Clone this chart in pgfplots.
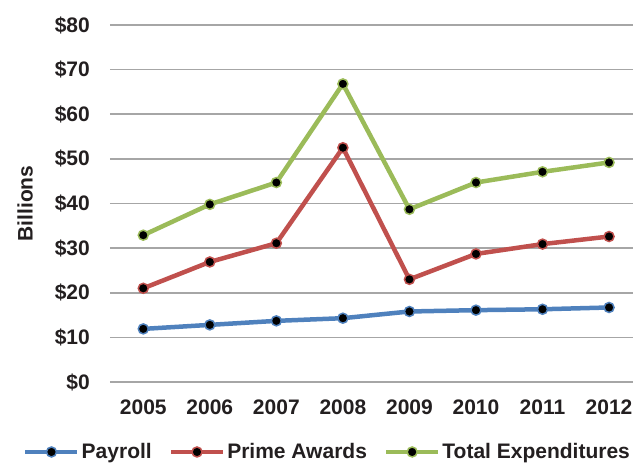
\documentclass[border=0pt]{standalone}
\usepackage{fontspec}
\setmainfont{Liberation Sans}
\usepackage{pgfplots}
\pgfplotsset{compat=1.18}
\definecolor{cblue}{HTML}{4F81BD}
\definecolor{cred}{HTML}{C0504D}
\definecolor{cgreen}{HTML}{9BBB59}
\definecolor{cgrid}{HTML}{A6A6A6}
\definecolor{ctext}{HTML}{231F20}
\newcommand\cf{\fontsize{21bp}{25bp}\selectfont\bfseries\color{ctext}}
\begin{document}
\begin{tikzpicture}
\useasboundingbox (-110bp,-82bp) rectangle (524bp,382bp);
\begin{axis}[
  at={(0,0)}, anchor=south west,
  scale only axis, width=523bp, height=357bp,
  xmin=2004.5, xmax=2012.36, ymin=0, ymax=80,
  axis line style={draw=none}, tick style={draw=none},
  ymajorgrids, grid style={line width=1.5bp, color=cgrid},
  ytick={0,10,...,80},
  yticklabels={\$0,\$10,\$20,\$30,\$40,\$50,\$60,\$70,\$80},
  xtick={2005,2006,2007,2008,2009,2010,2011,2012},
  xticklabels={2005,2006,2007,2008,2009,2010,2011,2012},
  yticklabel style={font=\cf, inner sep=0pt, anchor=east, xshift=-20bp},
  xticklabel style={font=\cf, inner sep=0pt, anchor=north, yshift=-18bp},
  clip=false,
  legend columns=-1,
  legend style={at={(axis description cs:0.416,-0.196)}, anchor=center, draw=none, fill=none,
    font=\cf, /tikz/every even column/.append style={column sep=15bp}, nodes={inner xsep=2bp}},
  legend image code/.code={\draw[mark repeat=2,mark phase=2,#1] plot coordinates {(0bp,0bp)(26bp,0bp)(52bp,0bp)};},
  every axis plot/.append style={line width=4.5bp, mark=*, mark size=5bp},
]
\addplot[cblue, mark options={fill=black, draw=cblue, line width=1.5bp}] coordinates {
 (2005,11.9)(2006,12.8)(2007,13.7)(2008,14.3)(2009,15.8)(2010,16.1)(2011,16.3)(2012,16.7)};
\addlegendentry{Payroll}
\addplot[cred, mark options={fill=black, draw=cred, line width=1.5bp}] coordinates {
 (2005,21.0)(2006,26.9)(2007,31.1)(2008,52.5)(2009,23.0)(2010,28.7)(2011,30.9)(2012,32.6)};
\addlegendentry{Prime Awards}
\addplot[cgreen, mark options={fill=black, draw=cgreen, line width=1.5bp}] coordinates {
 (2005,32.9)(2006,39.8)(2007,44.7)(2008,66.8)(2009,38.7)(2010,44.7)(2011,47.1)(2012,49.2)};
\addlegendentry{Total Expenditures}
\end{axis}
\node[rotate=90, font=\cf, inner sep=0pt] at (-85bp,178.5bp) {Billions};
\end{tikzpicture}
\end{document}
